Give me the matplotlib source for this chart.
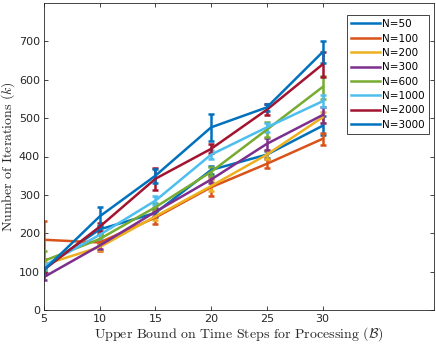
import matplotlib
matplotlib.use("Agg")
import matplotlib.pyplot as plt
from matplotlib.lines import Line2D

plt.rcParams.update({
    "font.family": "DejaVu Sans",
    "font.size": 8,
    "mathtext.fontset": "cm",
    "axes.linewidth": 0.6,
    "axes.edgecolor": "#262626",
    "xtick.direction": "in",
    "ytick.direction": "in",
    "xtick.color": "#262626",
    "ytick.color": "#262626",
    "axes.unicode_minus": False,
})

# x positions: upper bound on time steps
B = [5, 10, 15, 20, 25, 30]
LABELS = ["N=50", "N=100", "N=200", "N=300", "N=600", "N=1000", "N=2000", "N=3000"]

# mean iterations per N
n50 = [112, 210, 253, 365, 405, 480]
n100 = [183, 176, 241, 320, 381, 446]
n200 = [118, 164, 244, 323, 405, 502]
n300 = [86, 168, 256, 340, 433, 508]
n600 = [128, 185, 268, 360, 470, 581]
n1000 = [115, 196, 285, 405, 476, 544]
n2000 = [105, 217, 342, 420, 522, 640]
n3000 = [104, 244, 350, 476, 528, 672]

# error bar half-widths
e50 = [10, 10, 10, 10, 10, 25]
e100 = [50, 22, 18, 22, 12, 15]
e200 = [10, 8, 10, 12, 12, 15]
e300 = [8, 8, 10, 10, 15, 20]
e600 = [25, 10, 10, 12, 20, 30]
e1000 = [8, 10, 12, 12, 12, 15]
e2000 = [8, 10, 28, 12, 15, 32]
e3000 = [12, 25, 18, 35, 10, 28]

MEANS = [n50, n100, n200, n300, n600, n1000, n2000, n3000]
ERRS = [e50, e100, e200, e300, e600, e1000, e2000, e3000]
# MATLAB default colour order (cycles after 7)
COLORS = ["#0072BD", "#D95319", "#EDB120", "#7E2F8E", "#77AC30",
          "#4DBEEE", "#A2142F", "#0072BD"]

fig = plt.figure(figsize=(4.36, 3.48), dpi=100)
ax = fig.add_axes([44 / 436, 1 - 310 / 348, 390 / 436, 307 / 348])

handles = []
for m, e, c, lab in zip(MEANS, ERRS, COLORS, LABELS):
    ax.errorbar(B, m, yerr=e, color=c, linewidth=1.8, elinewidth=1.8,
                capsize=2.5, capthick=1.8)
    handles.append(Line2D([], [], color=c, linewidth=1.8, label=lab))

ax.set_xlim(5, 40)
ax.set_ylim(0, 800)
ax.set_xticks([5, 10, 15, 20, 25, 30])
ax.set_yticks([0, 100, 200, 300, 400, 500, 600, 700])
ax.tick_params(top=True, right=True, length=3, width=0.6, pad=3)

ax.set_xlabel(r"Upper Bound on Time Steps for Processing ($\mathcal{B}$)",
              fontfamily="cmr10", fontsize=10, color="#262626", labelpad=1)
ax.set_ylabel(r"Number of Iterations ($k$)",
              fontfamily="cmr10", fontsize=10, color="#262626", labelpad=1)

leg = ax.legend(handles=handles, loc="upper right",
                bbox_to_anchor=(0.987, 0.961), borderaxespad=0,
                fontsize=7.5, handlelength=2.7, handletextpad=0.25,
                labelspacing=0.42, borderpad=0.4, fancybox=False,
                framealpha=1, edgecolor="#262626")
leg.get_frame().set_linewidth(0.6)

fig.savefig("out.png", dpi=100)
